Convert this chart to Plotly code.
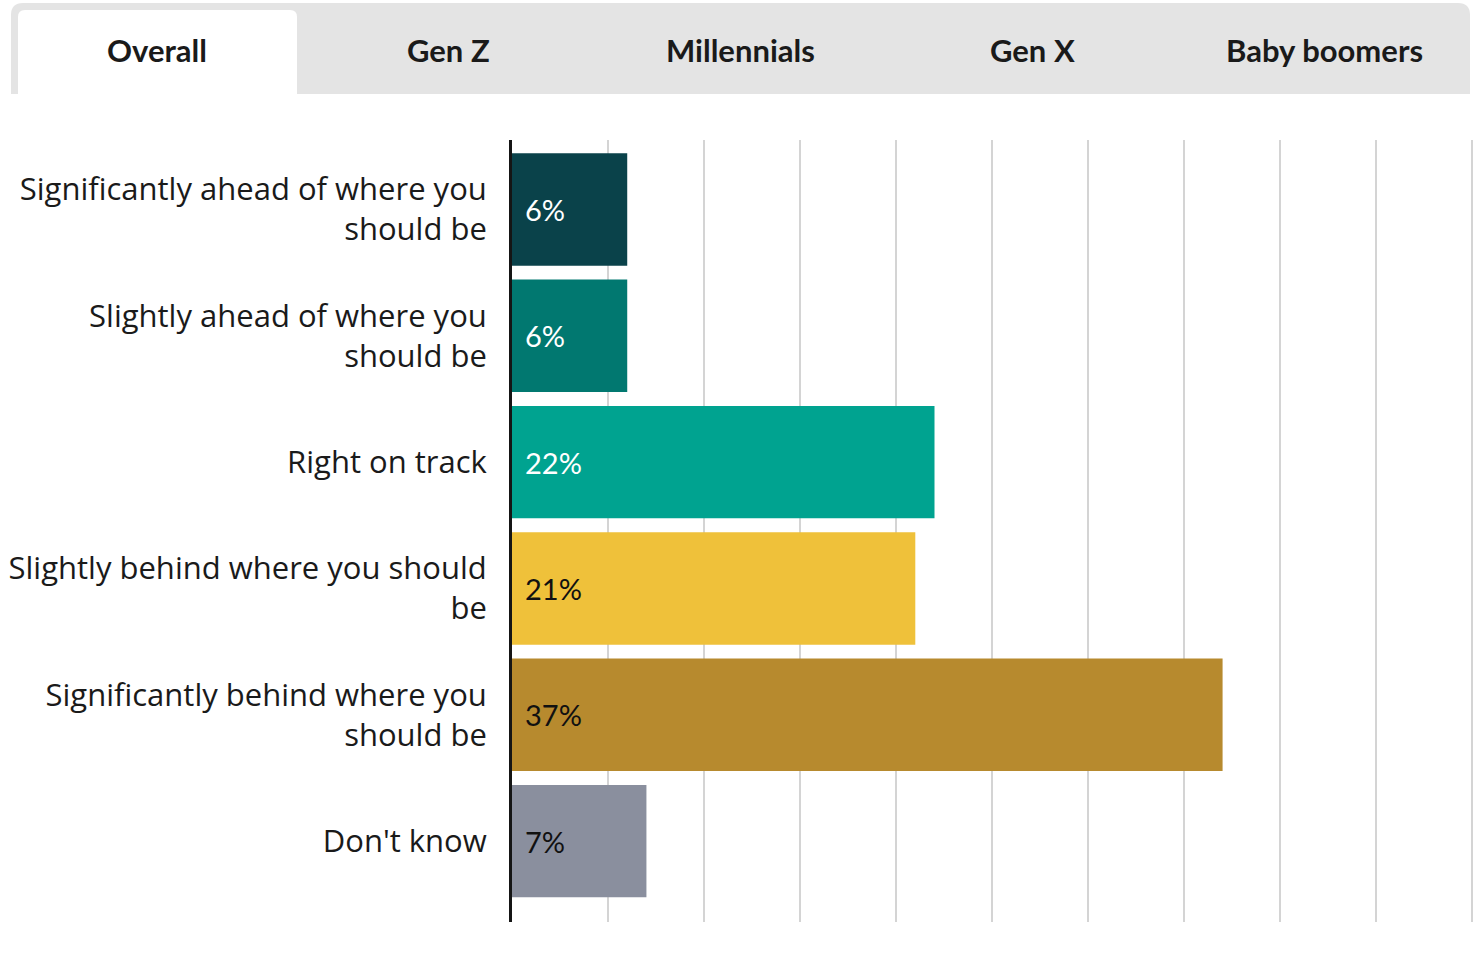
import plotly.graph_objects as go

categories = [
    "Significantly ahead of where you<br>should be",
    "Slightly ahead of where you<br>should be",
    "Right on track",
    "Slightly behind where you should<br>be",
    "Significantly behind where you<br>should be",
    "Don't know",
]
values = [6, 6, 22, 21, 37, 7]
value_labels = ["6%", "6%", "22%", "21%", "37%", "7%"]
bar_colors = ["#0a424a", "#017870", "#00a390", "#efc13a", "#b78a2e", "#8a8f9e"]
label_colors = ["#ffffff", "#ffffff", "#ffffff", "#111111", "#111111", "#111111"]
tabs = ["Overall", "Gen Z", "Millennials", "Gen X", "Baby boomers"]

W, H = 1480, 954
ML, MR, MT, MB = 512, 2, 140, 32
PW, PH = W - ML - MR, H - MT - MB

def px(x):
    return (x - ML) / PW

def py(y):
    return (H - MB - y) / PH

FONT = "Lato"
LABEL_FONT = "Open Sans"

fig = go.Figure()
fig.add_trace(go.Bar(
    y=list(range(len(categories))),
    x=values,
    orientation="h",
    marker=dict(color=bar_colors, line=dict(width=0)),
    width=0.89,
    hoverinfo="skip",
))

annotations = []
for i, (lab, col) in enumerate(zip(value_labels, label_colors)):
    annotations.append(dict(
        x=0, y=i, xref="x", yref="y", text=lab, showarrow=False,
        xanchor="left", yanchor="middle", xshift=11,
        font=dict(family=FONT, size=29, color=col),
    ))

# tab labels
tab_left, tab_right = 11, 1470
tab_w = (tab_right - tab_left) / len(tabs)
for i, t in enumerate(tabs):
    cx = tab_left + tab_w * (i + 0.5)
    annotations.append(dict(
        x=px(cx), y=py(50), xref="paper", yref="paper", text="<b>" + t + "</b>",
        showarrow=False, xanchor="center", yanchor="middle",
        font=dict(family=FONT, size=31, color="#1a1a1a"),
    ))

def rounded_top(x0, y0, x1, y1, r):
    X0, X1 = px(x0), px(x1)
    Y0, Y1 = py(y0), py(y1)
    rx, ry = r / PW, r / PH
    return (f"M {X0},{Y1} L {X0},{Y0 - ry} Q {X0},{Y0} {X0 + rx},{Y0} "
            f"L {X1 - rx},{Y0} Q {X1},{Y0} {X1},{Y0 - ry} L {X1},{Y1} Z")

shapes = [
    dict(type="path", xref="paper", yref="paper", path=rounded_top(11, 3, 1470, 94, 12),
         fillcolor="#e4e4e4", line=dict(width=0), layer="below"),
    dict(type="path", xref="paper", yref="paper", path=rounded_top(18, 10, 297, 95, 7),
         fillcolor="#ffffff", line=dict(width=0), layer="below"),
]

fig.update_layout(
    width=W, height=H,
    margin=dict(l=ML, r=MR, t=MT, b=MB, pad=0),
    paper_bgcolor="#ffffff", plot_bgcolor="#ffffff",
    showlegend=False,
    bargap=0.1,
    annotations=annotations,
    shapes=shapes,
    font=dict(family=FONT, color="#1a1a1a"),
    xaxis=dict(range=[0, 50.3], dtick=5, showticklabels=False, showgrid=True,
               gridcolor="#d4d4d4", gridwidth=2, zeroline=False, showline=False,
               fixedrange=True),
    yaxis=dict(range=[5.64, -0.55], tickmode="array",
               tickvals=list(range(len(categories))), ticktext=categories,
               showgrid=False, zeroline=False, showline=True, linecolor="#151515",
               linewidth=3, ticks="outside", ticklen=16, tickcolor="rgba(0,0,0,0)",
               tickfont=dict(family=LABEL_FONT, size=31, color="#1a1a1a"), fixedrange=True),
)

fig.write_html("out.html", config={"displayModeBar": False},
               post_script="document.body.style.margin='0';")
